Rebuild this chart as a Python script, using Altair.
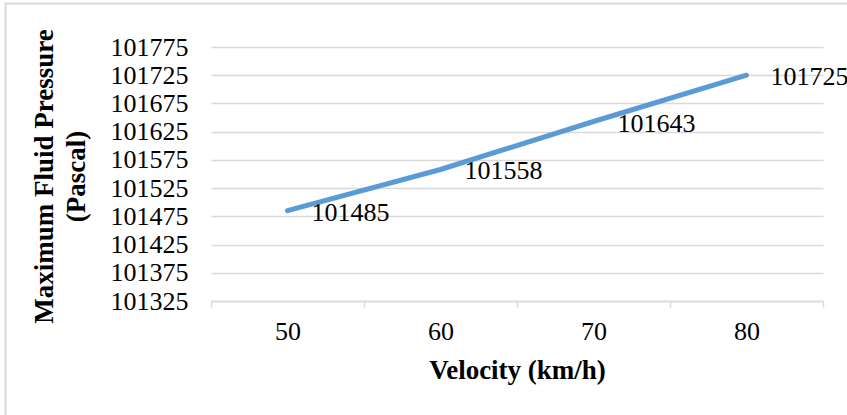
import altair as alt
import pandas as pd

velocity = ["50", "60", "70", "80"]
pressure = [101485, 101558, 101643, 101725]
y_ticks = [101325, 101375, 101425, 101475, 101525, 101575, 101625, 101675, 101725, 101775]

df = pd.DataFrame({"v": velocity, "p": pressure})

FONT = "Liberation Serif"
FS = 26

x_enc = alt.X(
    "v:O",
    sort=velocity,
    bandPosition=0.5,
    scale=alt.Scale(type="band", paddingInner=0, paddingOuter=0),
    axis=alt.Axis(
        title="Velocity (km/h)",
        labelAngle=0,
        labelFont=FONT,
        labelFontSize=FS,
        labelColor="#000000",
        labelPadding=24,
        labelBaseline="middle",
        labelOverlap=False,
        tickBand="extent",
        tickSize=6,
        tickColor="#D9D9D9",
        tickWidth=1.5,
        domainColor="#D9D9D9",
        domainWidth=1.5,
        grid=False,
        titleFont=FONT,
        titleFontSize=27,
        titleFontWeight="bold",
        titleColor="#000000",
        titleBaseline="middle",
        titleY=69,
    ),
)

y_enc = alt.Y(
    "p:Q",
    scale=alt.Scale(domain=[101325, 101775], nice=False, zero=False),
    axis=alt.Axis(
        title=["Maximum Fluid Pressure", "(Pascal)"],
        values=y_ticks,
        tickCount=10,
        format="d",
        labelFont=FONT,
        labelFontSize=FS,
        labelColor="#000000",
        labelPadding=23,
        labelOverlap=False,
        labelSeparation=0,
        ticks=False,
        domain=False,
        grid=True,
        gridColor="#D9D9D9",
        gridWidth=1.5,
        titleFont=FONT,
        titleFontSize=27,
        titleFontWeight="bold",
        titleColor="#000000",
        titleAngle=270,
        titleAlign="center",
        titleBaseline="middle",
        titleLineHeight=32,
        titleX=-167,
        titleY=129,
    ),
)

base = alt.Chart(df).encode(x=x_enc, y=y_enc)

line = base.mark_line(color="#5B9BD5", strokeWidth=5, strokeCap="round")

labels = base.mark_text(
    align="left", baseline="middle", dx=24, dy=2, font=FONT, fontSize=FS, color="#000000"
).encode(text=alt.Text("p:Q", format="d"))

frame = alt.Chart(pd.DataFrame({"a": [0]})).mark_rect(
    fill=None, stroke="#D9D9D9", strokeWidth=2
).encode(
    x=alt.value(-205.5), x2=alt.value(700), y=alt.value(-43.5), y2=alt.value(420)
)

chart = alt.layer(line, labels, frame).properties(
    width=612,
    height=254,
    autosize=alt.AutoSizeParams(type="none"),
    padding={"left": 211, "top": 47, "right": 24, "bottom": 114},
    background="white",
).configure_view(stroke=None)

chart.save("out.html", embed_options={"renderer": "svg", "actions": False})
